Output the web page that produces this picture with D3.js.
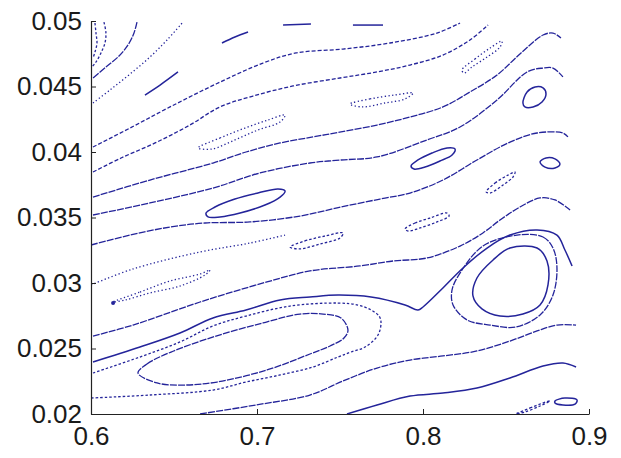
<!DOCTYPE html>
<html><head><meta charset="utf-8">
<script src="https://cdn.jsdelivr.net/npm/d3@7"></script>
<style>body{margin:0;background:#fff}</style>
</head><body><svg id="c" width="621" height="458"></svg>
<script>
// ---------- axis ticks ----------
const xTicks = [0.6, 0.7, 0.8, 0.9];
const xTickLabels = ["0.6", "0.7", "0.8", "0.9"];
const yTicks = [0.02, 0.025, 0.03, 0.035, 0.04, 0.045, 0.05];
const yTickLabels = ["0.02", "0.025", "0.03", "0.035", "0.04", "0.045", "0.05"];

// ---------- open orbit curves (x, y) ----------
const cornerA = [[0.6024,0.04985],[0.6030,0.04908],[0.6036,0.04832],[0.6024,0.04763],[0.6012,0.04718]];
const cornerB = [[0.6078,0.04992],[0.6090,0.04908],[0.6084,0.04832],[0.6060,0.04756],[0.6030,0.04687],[0.6006,0.04649]];
const arcC = [[0.6277,0.04992],[0.6259,0.04908],[0.6223,0.04817],[0.6169,0.04733],[0.6090,0.04649],[0.6012,0.04565]];
const lineA = [[0.6012,0.04374],[0.6114,0.04473],[0.6235,0.04595],[0.6355,0.04725],[0.6458,0.04855],[0.6554,0.04992]];
const segA = [[0.6325,0.04435],[0.6416,0.04511],[0.6524,0.04611]];
const segB = [[0.6789,0.04832],[0.6867,0.04878],[0.6946,0.04916]];
const segC = [[0.7157,0.04969],[0.7325,0.04977]];
const segD = [[0.7578,0.04969],[0.7759,0.04969]];
const lineB = [[0.6012,0.04038],[0.6235,0.04183],[0.6476,0.04344],[0.6753,0.04519],[0.7036,0.04679],[0.7235,0.04756],[0.7518,0.04786],[0.7801,0.04832],[0.8084,0.04908],[0.8223,0.04985]];
const lineC = [[0.6012,0.03847],[0.6181,0.03954],[0.6386,0.04069],[0.6596,0.04206],[0.6777,0.04344],[0.6976,0.04427],[0.7217,0.04504],[0.7500,0.04565],[0.7723,0.04611],[0.7922,0.04664],[0.8120,0.04740],[0.8283,0.04855],[0.8392,0.04969]];
const lineE = [[0.6012,0.03656],[0.6355,0.03786],[0.6735,0.03916],[0.6934,0.04000],[0.7139,0.04069],[0.7337,0.04115],[0.7506,0.04153],[0.7723,0.04206],[0.7922,0.04267],[0.8120,0.04344],[0.8283,0.04458],[0.8446,0.04588],[0.8584,0.04748],[0.8723,0.04893],[0.8783,0.04908],[0.8831,0.04870]];
const lineF = [[0.6012,0.03519],[0.6355,0.03611],[0.6735,0.03725],[0.7018,0.03840],[0.7319,0.03916],[0.7506,0.03939],[0.7723,0.03962],[0.8024,0.04092],[0.8223,0.04191],[0.8446,0.04397],[0.8627,0.04611],[0.8723,0.04641],[0.8783,0.04641],[0.8843,0.04573]];
const lineG = [[0.6000,0.03290],[0.6235,0.03366],[0.6476,0.03427],[0.6687,0.03458],[0.6958,0.03466],[0.7259,0.03511],[0.7506,0.03580],[0.7741,0.03641],[0.7922,0.03687],[0.8120,0.03786],[0.8325,0.03939],[0.8524,0.04076],[0.8687,0.04145],[0.8843,0.04145],[0.8873,0.04115]];
const lineG2 = [[0.6000,0.02985],[0.6253,0.03107],[0.6657,0.03237],[0.6958,0.03305],[0.7169,0.03366]];
const lineH = [[0.6012,0.02595],[0.6253,0.02679],[0.6657,0.02855],[0.7060,0.03008],[0.7319,0.03092],[0.7620,0.03130],[0.7819,0.03168],[0.8024,0.03191],[0.8223,0.03282],[0.8361,0.03382],[0.8464,0.03481],[0.8584,0.03580],[0.8705,0.03649],[0.8795,0.03634],[0.8886,0.03557]];
const sepV = [[0.6012,0.02397],[0.6295,0.02511],[0.6536,0.02618],[0.6735,0.02733],[0.6934,0.02794],[0.7139,0.02870],[0.7319,0.02893],[0.7488,0.02908],[0.7687,0.02893],[0.7892,0.02832],[0.7970,0.02794],[0.8000,0.02817],[0.8120,0.02962],[0.8241,0.03115],[0.8386,0.03267],[0.8524,0.03366],[0.8687,0.03405],[0.8807,0.03366],[0.8855,0.03252],[0.8898,0.03130]];
const outerLoop = [[0.6012,0.02313],[0.6295,0.02435],[0.6536,0.02550],[0.6735,0.02672],[0.6934,0.02748],[0.7199,0.02824],[0.7488,0.02847],[0.7608,0.02832],[0.7687,0.02794],[0.7735,0.02748],[0.7747,0.02702],[0.7729,0.02603],[0.7651,0.02511],[0.7566,0.02473],[0.7488,0.02435],[0.7337,0.02359],[0.7139,0.02298],[0.6934,0.02244],[0.6735,0.02183],[0.6355,0.02145],[0.6000,0.02122]];
const lowA = [[0.6657,0.02000],[0.6994,0.02069],[0.7319,0.02145],[0.7518,0.02252],[0.7723,0.02351],[0.7922,0.02412],[0.8120,0.02443],[0.8325,0.02481],[0.8524,0.02557],[0.8687,0.02634],[0.8807,0.02679],[0.8922,0.02679]];
const lowB = [[0.7542,0.02000],[0.7723,0.02069],[0.7922,0.02137],[0.8120,0.02160],[0.8325,0.02198],[0.8524,0.02275],[0.8723,0.02366],[0.8843,0.02389],[0.8922,0.02359]];

// ---------- closed curves / islands (x, y) ----------
const bigIsland = [[0.6283,0.02313],[0.6337,0.02382],[0.6482,0.02473],[0.6753,0.02595],[0.7036,0.02695],[0.7259,0.02763],[0.7398,0.02763],[0.7506,0.02733],[0.7548,0.02641],[0.7524,0.02580],[0.7440,0.02519],[0.7319,0.02458],[0.7060,0.02336],[0.6759,0.02244],[0.6554,0.02221],[0.6398,0.02237]];
const rightInner = [[0.8524,0.03267],[0.8687,0.03267],[0.8747,0.03168],[0.8753,0.02985],[0.8705,0.02832],[0.8602,0.02763],[0.8464,0.02748],[0.8355,0.02802],[0.8301,0.02901],[0.8325,0.03038],[0.8422,0.03176]];
const rightMid = [[0.8566,0.03366],[0.8723,0.03351],[0.8783,0.03267],[0.8807,0.03115],[0.8783,0.02908],[0.8705,0.02756],[0.8560,0.02664],[0.8404,0.02679],[0.8265,0.02718],[0.8181,0.02832],[0.8175,0.02947],[0.8223,0.03076],[0.8361,0.03282]];
const islandE = [[0.6693,0.03534],[0.6747,0.03580],[0.6867,0.03641],[0.7006,0.03687],[0.7127,0.03718],[0.7169,0.03702],[0.7139,0.03656],[0.7048,0.03595],[0.6898,0.03534],[0.6777,0.03504],[0.6705,0.03504]];
const islandJ = [[0.7928,0.03893],[0.7970,0.03939],[0.8054,0.03992],[0.8145,0.04031],[0.8193,0.04023],[0.8175,0.03977],[0.8102,0.03931],[0.8012,0.03885],[0.7946,0.03870]];
const islandK = [[0.8602,0.04374],[0.8627,0.04458],[0.8675,0.04496],[0.8723,0.04489],[0.8741,0.04443],[0.8717,0.04382],[0.8663,0.04344],[0.8614,0.04344]];
const islandL = [[0.8380,0.03695],[0.8434,0.03763],[0.8512,0.03824],[0.8554,0.03847],[0.8542,0.03809],[0.8482,0.03748],[0.8404,0.03687]];
const islandM = [[0.8705,0.03924],[0.8741,0.03954],[0.8795,0.03947],[0.8825,0.03908],[0.8795,0.03878],[0.8735,0.03885]];
const islandN = [[0.7892,0.03412],[0.7952,0.03458],[0.8042,0.03496],[0.8145,0.03534],[0.8157,0.03511],[0.8084,0.03466],[0.7982,0.03420],[0.7910,0.03397]];
const islandP = [[0.7199,0.03275],[0.7289,0.03321],[0.7410,0.03359],[0.7518,0.03382],[0.7500,0.03344],[0.7380,0.03298],[0.7259,0.03260]];
const islandQ = [[0.6645,0.04031],[0.6777,0.04107],[0.6928,0.04183],[0.7066,0.04244],[0.7169,0.04282],[0.7139,0.04229],[0.7006,0.04168],[0.6867,0.04092],[0.6729,0.04023]];
const islandR = [[0.7560,0.04366],[0.7681,0.04405],[0.7831,0.04435],[0.7940,0.04450],[0.7892,0.04405],[0.7771,0.04374],[0.7633,0.04344]];
const islandS = [[0.8235,0.04626],[0.8313,0.04710],[0.8404,0.04794],[0.8476,0.04847],[0.8464,0.04802],[0.8386,0.04725],[0.8295,0.04649],[0.8247,0.04603]];
const islandT = [[0.6133,0.02855],[0.6295,0.02931],[0.6476,0.03015],[0.6657,0.03069],[0.6717,0.03099],[0.6687,0.03061],[0.6536,0.02977],[0.6355,0.02924],[0.6205,0.02870]];
const islandU = [[0.8560,0.02000],[0.8645,0.02046],[0.8741,0.02092],[0.8765,0.02099],[0.8705,0.02061],[0.8614,0.02015]];
const islandV = [[0.8795,0.02099],[0.8855,0.02122],[0.8928,0.02107],[0.8916,0.02076],[0.8843,0.02069],[0.8795,0.02084]];
const markerPts = [[0.6133,0.02847]];

// ---------- layout ----------
const W = 621, H = 458;
const m = {left: 91, right: 32, top: 21, bottom: 44};
const color = "#24249a";
const svg = d3.select("#c");
const x = d3.scaleLinear().domain([0.6, 0.9]).range([m.left, W - m.right]);
const y = d3.scaleLinear().domain([0.02, 0.05]).range([H - m.bottom, m.top]);

svg.append("defs").append("clipPath").attr("id", "clip")
  .append("rect").attr("x", m.left).attr("y", m.top - 3)
  .attr("width", W - m.left).attr("height", (H - m.bottom) - m.top + 3);

const dashes = {solid: null, semi: "7,1.2", dash: "4,2", dot: "1.3,2.4", fine: "2.5,2"};
const openCurves = [
  [cornerA, "fine"], [cornerB, "fine"], [arcC, "semi"], [lineA, "dot"],
  [segA, "solid"], [segB, "solid"], [segC, "solid"], [segD, "solid"],
  [lineB, "dash"], [lineC, "dash"], [lineE, "semi"], [lineF, "semi"],
  [lineG, "semi"], [lineG2, "dot"], [lineH, "semi"], [sepV, "solid"],
  [outerLoop, "fine"], [lowA, "semi"], [lowB, "solid"]
];
const closedCurves = [
  [bigIsland, "semi"], [rightInner, "solid"], [rightMid, "semi"],
  [islandE, "solid"], [islandJ, "solid"], [islandK, "solid"], [islandL, "fine"],
  [islandM, "solid"], [islandN, "fine"], [islandP, "fine"], [islandQ, "dot"],
  [islandR, "dot"], [islandS, "dot"], [islandT, "dot"], [islandU, "fine"], [islandV, "solid"]
];

const g = svg.append("g").attr("clip-path", "url(#clip)");
const openLine = d3.line().x(d => x(d[0])).y(d => y(d[1])).curve(d3.curveCatmullRom.alpha(0.5));
const closedLine = d3.line().x(d => x(d[0])).y(d => y(d[1])).curve(d3.curveCatmullRomClosed.alpha(0.5));

openCurves.forEach(([pts, st]) => {
  g.append("path").attr("d", openLine(pts)).attr("fill", "none")
    .attr("stroke", color).attr("stroke-width", st === "solid" ? 1.5 : 1.3)
    .attr("stroke-dasharray", dashes[st]);
});
closedCurves.forEach(([pts, st]) => {
  g.append("path").attr("d", closedLine(pts)).attr("fill", "none")
    .attr("stroke", color).attr("stroke-width", st === "solid" ? 1.5 : 1.3)
    .attr("stroke-dasharray", dashes[st]);
});
g.selectAll("circle.mk").data(markerPts).enter().append("circle")
  .attr("cx", d => x(d[0])).attr("cy", d => y(d[1])).attr("r", 2).attr("fill", color);

// ---------- axes ----------
const font = "'Liberation Sans', Arial, Helvetica, sans-serif";
const xAxis = svg.append("g").attr("transform", `translate(0,${H - m.bottom})`)
  .call(d3.axisBottom(x).tickValues(xTicks).tickFormat((d, i) => xTickLabels[i])
    .tickSize(-5).tickSizeOuter(0).tickPadding(13));
const yAxis = svg.append("g").attr("transform", `translate(${m.left},0)`)
  .call(d3.axisLeft(y).tickValues(yTicks).tickFormat((d, i) => yTickLabels[i])
    .tickSize(-5).tickSizeOuter(0).tickPadding(9));
[xAxis, yAxis].forEach(a => {
  a.selectAll("path.domain").attr("stroke", "#222").attr("stroke-width", 1.2);
  a.selectAll(".tick line").attr("stroke", "#222");
  a.selectAll("text").attr("font-family", font).attr("font-size", 26).attr("fill", "#1a1a1a");
});
</script>
</body></html>
